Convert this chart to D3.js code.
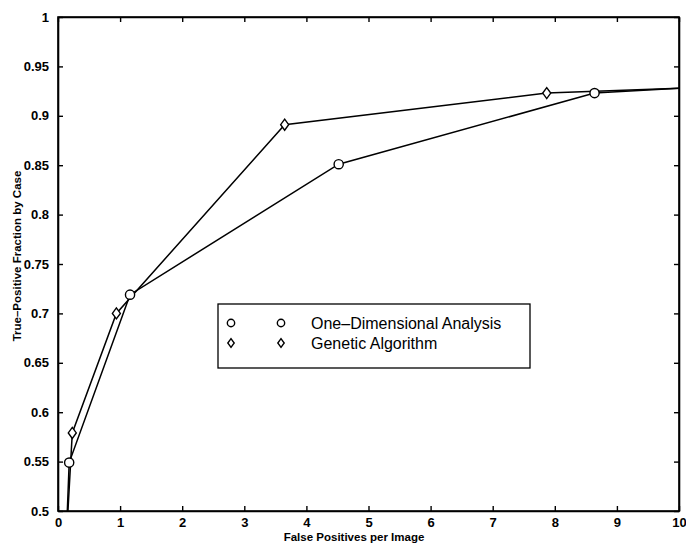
<!DOCTYPE html>
<html>
<head>
<meta charset="utf-8">
<script src="https://cdn.jsdelivr.net/npm/d3@7"></script>
<style>
  body { margin: 0; background: #fff; }
  text { font-family: "Liberation Sans", Arial, sans-serif; }
</style>
</head>
<body>
<div id="vis-holder"></div>
<script>
// values
const oneDimX = [0.15, 0.18, 1.16, 4.52, 8.64, 10];
const oneDimY = [0.50, 0.549, 0.719, 0.851, 0.923, 0.928];
const geneticX = [0.16, 0.23, 0.94, 3.65, 7.87, 10];
const geneticY = [0.50, 0.579, 0.700, 0.891, 0.923, 0.928];

const xTicks = [0, 1, 2, 3, 4, 5, 6, 7, 8, 9, 10];
const yTicks = [0.5, 0.55, 0.6, 0.65, 0.7, 0.75, 0.8, 0.85, 0.9, 0.95, 1];
const legendLabels = ["One\u2013Dimensional Analysis", "Genetic Algorithm"];

const w = 686;
const h = 544;
const svg = d3.select("#vis-holder").append("svg")
    .attr("width", w)
    .attr("height", h);

const mLeft = 58, mRight = 679, mTop = 17, mBottom = 511;

let x = d3.scaleLinear().domain([0, 10]).range([mLeft, mRight]);
let y = d3.scaleLinear().domain([0.5, 1]).range([mBottom, mTop]);

// axes with inward ticks on all four sides
const tickLen = 5;
svg.append("g")
    .attr("transform", "translate(0," + mBottom + ")")
    .call(d3.axisBottom(x).tickValues(xTicks).tickSizeInner(-tickLen).tickSizeOuter(0).tickPadding(7))
    .call(g => g.selectAll("text").style("font-size", "13px").style("font-weight", "bold").attr("fill", "#000"));
svg.append("g")
    .attr("transform", "translate(0," + mTop + ")")
    .call(d3.axisTop(x).tickValues(xTicks).tickSizeInner(-tickLen).tickSizeOuter(0).tickFormat(""));
svg.append("g")
    .attr("transform", "translate(" + mLeft + ",0)")
    .call(d3.axisLeft(y).tickValues(yTicks).tickSizeInner(-tickLen).tickSizeOuter(0).tickPadding(9)
        .tickFormat(d3.format("~g")))
    .call(g => g.selectAll("text").style("font-size", "13px").style("font-weight", "bold").attr("fill", "#000"));
svg.append("g")
    .attr("transform", "translate(" + mRight + ",0)")
    .call(d3.axisRight(y).tickValues(yTicks).tickSizeInner(-tickLen).tickSizeOuter(0).tickFormat(""));

svg.selectAll(".domain").attr("stroke", "#000").attr("stroke-width", 1.6);
svg.selectAll(".tick line").attr("stroke", "#000").attr("stroke-width", 1.4);

svg.append("rect")
    .attr("x", mLeft).attr("y", mTop)
    .attr("width", mRight - mLeft).attr("height", mBottom - mTop)
    .attr("fill", "none").attr("stroke", "#000").attr("stroke-width", 1.6);

// axis labels
svg.append("text")
    .attr("x", 354)
    .attr("y", 541)
    .attr("text-anchor", "middle")
    .style("font-size", "11.5px").style("font-weight", "bold")
    .text("False Positives per Image");
svg.append("text")
    .attr("transform", "translate(21," + 256 + ") rotate(-90)")
    .attr("text-anchor", "middle")
    .style("font-size", "11.5px").style("font-weight", "bold")
    .text("True\u2013Positive Fraction by Case");

// lines
const line = d3.line().x(d => x(d[0])).y(d => y(d[1]));
const series = [
    { pts: d3.zip(oneDimX, oneDimY), marker: "circle" },
    { pts: d3.zip(geneticX, geneticY), marker: "diamond" }
];

svg.selectAll(".series")
    .data(series)
    .enter()
    .append("path")
    .attr("class", "series")
    .attr("d", d => line(d.pts))
    .attr("fill", "none")
    .attr("stroke", "#000")
    .attr("stroke-width", 1.5);

function drawMarker(g, type, cx, cy, s) {
    if (type === "circle") {
        g.append("circle").attr("cx", cx).attr("cy", cy).attr("r", 4.6 * s)
            .attr("fill", "#fff").attr("stroke", "#000").attr("stroke-width", 1.4);
    } else {
        const hw = 4 * s, hh = 5.5 * s;
        g.append("path")
            .attr("d", `M${cx},${cy - hh}L${cx + hw},${cy}L${cx},${cy + hh}L${cx - hw},${cy}Z`)
            .attr("fill", "#fff").attr("stroke", "#000").attr("stroke-width", 1.4);
    }
}

// markers on the measured points (first and last entries are line ends only)
const markers = svg.append("g");
series.forEach(s => {
    s.pts.slice(1, -1).forEach(p => drawMarker(markers, s.marker, x(p[0]), y(p[1]), 1));
});

// legend
const lg = svg.append("g");
lg.append("rect")
    .attr("x", 218).attr("y", 304)
    .attr("width", 312).attr("height", 64)
    .attr("fill", "#fff").attr("stroke", "#000").attr("stroke-width", 1.3);
legendLabels.forEach((lab, i) => {
    const ly = 323 + i * 20;
    drawMarker(lg, series[i].marker, 231, ly, 0.8);
    drawMarker(lg, series[i].marker, 281, ly, 0.8);
    lg.append("text")
        .attr("x", 311).attr("y", ly + 5.5)
        .style("font-size", "16px")
        .text(lab);
});
</script>
</body>
</html>
